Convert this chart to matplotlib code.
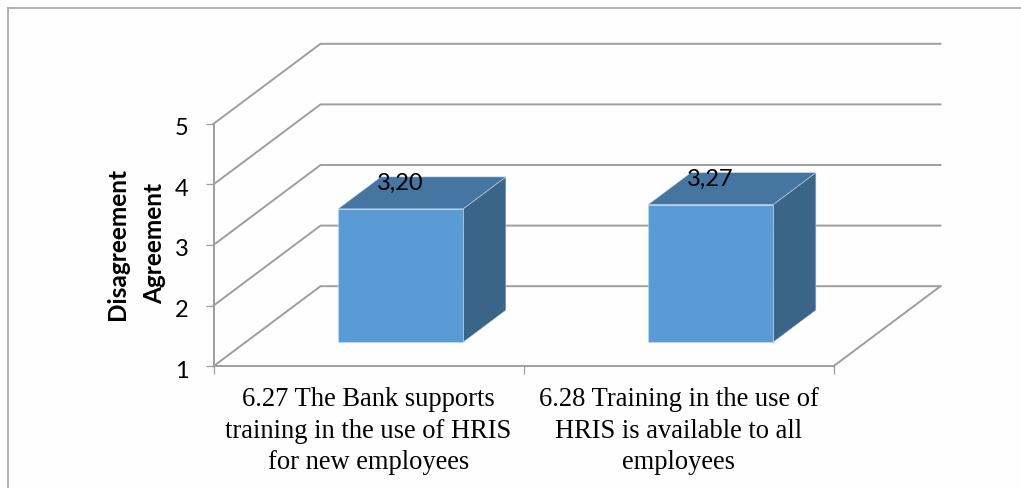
import matplotlib
matplotlib.use("Agg")
import matplotlib.pyplot as plt
from matplotlib.lines import Line2D
from matplotlib.patches import Polygon
from matplotlib.transforms import ScaledTranslation

categories = [
    "6.27 The Bank supports\ntraining in the use of HRIS\nfor new employees",
    "6.28 Training in the use of\nHRIS is available to all\nemployees",
]
values = [3.20, 3.27]
value_labels = ["3,20", "3,27"]
y_ticks = [1, 2, 3, 4, 5]
axis_title = "Disagreement\nAgreement"

W, H = 1021, 489
GREY = "#9e9e9e"

# pixel geometry of the plot box, used only to set the axis limits
X0, CAT_W = 213.5, 310.0
Y1, UNIT_H = 367.2, 60.6
# depth of the 3D box in data units
DEPTH_X = 107.0 / CAT_W
DEPTH_Y = 80.0 / UNIT_H
BAR_W = 125.0 / CAT_W
BAR_NEAR, BAR_FAR = 0.30, 0.70


def project(cat, val, depth=0.0):
    """Oblique projection: depth goes from 0 (front) to 1 (back wall)."""
    return cat + depth * DEPTH_X, val + depth * DEPTH_Y


fig = plt.figure(figsize=(W / 100, H / 100), dpi=100, facecolor="#fefefe")
ax = fig.add_axes([0, 0, 1, 1])
ax.set_facecolor("none")
ax.set_xlim(-X0 / CAT_W, (W - X0) / CAT_W)
ax.set_ylim(1 - (H - Y1) / UNIT_H, 1 + Y1 / UNIT_H)

# walls and gridlines
for v in y_ticks:
    xs, ys = zip(project(0, v), project(0, v, 1), project(2, v, 1))
    ax.plot(xs, ys, color=GREY, lw=1.4, zorder=1, solid_joinstyle="miter")
xs, ys = zip(project(2, 1), project(2, 1, 1))
ax.plot(xs, ys, color=GREY, lw=1.4, zorder=1)

# bars
for i, v in enumerate(values):
    left = i + 0.5 - BAR_W / 2
    right = i + 0.5 + BAR_W / 2
    front = [project(left, 1, BAR_NEAR), project(right, 1, BAR_NEAR),
             project(right, v, BAR_NEAR), project(left, v, BAR_NEAR)]
    top = [project(left, v, BAR_NEAR), project(right, v, BAR_NEAR),
           project(right, v, BAR_FAR), project(left, v, BAR_FAR)]
    side = [project(right, 1, BAR_NEAR), project(right, 1, BAR_FAR),
            project(right, v, BAR_FAR), project(right, v, BAR_NEAR)]
    ax.add_patch(Polygon(side, facecolor="#3a6488", edgecolor="#c6d6e6", lw=0.4, zorder=3))
    ax.add_patch(Polygon(top, facecolor="#4675a2", edgecolor="#c6d6e6", lw=0.4, zorder=3))
    ax.add_patch(Polygon(front, facecolor="#5b9bd5", edgecolor="#c6dcf0", lw=0.4, zorder=4))
    ax.annotate(value_labels[i], project(i + 0.5, v, BAR_NEAR), xytext=(0, 19),
                textcoords="offset points", ha="center", va="center",
                fontsize=17, family="Lato", color="black", zorder=5)

# axes
for s in ("top", "right"):
    ax.spines[s].set_visible(False)
ax.spines["left"].set_position(("data", 0))
ax.spines["left"].set_bounds(1, 5)
ax.spines["bottom"].set_position(("data", 1))
ax.spines["bottom"].set_bounds(0, 2)
for s in ("left", "bottom"):
    ax.spines[s].set_color(GREY)
    ax.spines[s].set_linewidth(1.4)
    ax.spines[s].set_zorder(2)

ax.set_yticks(y_ticks)
ax.set_yticklabels([str(t) for t in y_ticks], family="Lato", fontsize=17)
ax.tick_params(axis="y", length=5.8, width=0.9, color=GREY, pad=12)
shift = ScaledTranslation(0, -2.0 / 100, fig.dpi_scale_trans)
for lab in ax.get_yticklabels():
    lab.set_transform(lab.get_transform() + shift)

ax.set_xticks([0, 1, 2])
ax.set_xticklabels([])
ax.set_xticks([0.5, 1.5], minor=True)
ax.set_xticklabels(categories, minor=True, family="Liberation Serif",
                   fontsize=19.1, linespacing=1.33)
ax.tick_params(axis="x", which="major", length=5.5, width=0.9, color=GREY)
ax.tick_params(axis="x", which="minor", length=0, pad=14.5)

ax.text(-0.251, 3.04, axis_title, rotation=90, ha="center", va="center",
        family="Lato", fontweight="bold", fontsize=17.6, linespacing=1.74,
        multialignment="center")

# outer chart frame, left and top only
frame = dict(color="#a6a6a6", lw=1.2, transform=fig.transFigure)
fig.add_artist(Line2D([7.5 / W, 7.5 / W], [0, 1 - 8.5 / H], **frame))
fig.add_artist(Line2D([7.5 / W, 1], [1 - 8.5 / H, 1 - 8.5 / H], **frame))

fig.savefig("out.png", dpi=100, facecolor=fig.get_facecolor())
plt.close(fig)
